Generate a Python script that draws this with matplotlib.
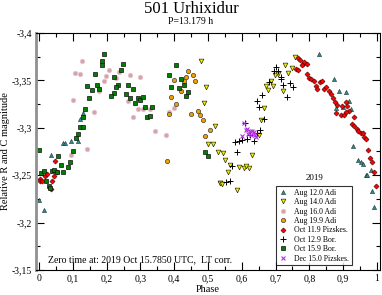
import matplotlib
matplotlib.use('Agg')
import matplotlib.pyplot as plt
from matplotlib.ticker import MultipleLocator, FuncFormatter

plt.rcParams['font.family'] = ['Liberation Serif', 'DejaVu Serif']

# Aug 12.0 Adi
aug12_ph = [0.000, 0.015, 0.036, 0.071, 0.078, 0.094, 0.115, 0.122, 0.129, 0.829, 0.873, 0.887, 0.908,
            0.916, 0.899, 0.880, 0.922, 0.929, 0.945, 0.952, 0.959, 0.981, 0.967, 0.971, 0.986, 0.991]
aug12_mag = [-3.224, -3.213, -3.271, -3.284, -3.284, -3.286, -3.286, -3.309, -3.316, -3.378, -3.351, -3.339, -3.338,
             -3.328, -3.322, -3.321, -3.320, -3.281, -3.266, -3.264, -3.262, -3.256, -3.250, -3.250, -3.233, -3.216]

# Aug 14.0 Adi
aug14_ph = [0.480, 0.493, 0.487, 0.522, 0.501, 0.516, 0.530, 0.535, 0.543, 0.550, 0.565, 0.558, 0.593, 0.607,
            0.621, 0.613, 0.629, 0.536, 0.542, 0.587, 0.656, 0.665, 0.651, 0.671, 0.678, 0.692, 0.686, 0.699,
            0.706, 0.723, 0.729, 0.736, 0.749, 0.757]
aug14_mag = [-3.370, -3.343, -3.326, -3.302, -3.283, -3.283, -3.274, -3.242, -3.273, -3.266, -3.261, -3.253, -3.259, -3.258,
             -3.258, -3.260, -3.271, -3.242, -3.241, -3.234, -3.308, -3.321, -3.292, -3.344, -3.340, -3.344, -3.349, -3.356,
             -3.357, -3.339, -3.366, -3.358, -3.363, -3.375]

# Aug 16.0 Adi
aug16_ph = [0.128, 0.107, 0.121, 0.206, 0.199, 0.193, 0.238, 0.228, 0.269, 0.299, 0.178, 0.101, 0.262, 0.164,
            0.292, 0.308, 0.328, 0.279, 0.343, 0.377, 0.386, 0.400, 0.143, 0.094]
aug16_mag = [-3.370, -3.358, -3.357, -3.361, -3.355, -3.349, -3.359, -3.353, -3.356, -3.354, -3.339, -3.329, -3.328, -3.317,
             -3.320, -3.320, -3.320, -3.311, -3.297, -3.292, -3.317, -3.321, -3.278, -3.271]

# Aug 19.9 Adi
aug19_ph = [0.441, 0.434, 0.456, 0.399, 0.428, 0.462, 0.420, 0.391, 0.405, 0.384, 0.470, 0.449, 0.476, 0.484,
            0.506, 0.491, 0.378]
aug19_mag = [-3.360, -3.354, -3.356, -3.350, -3.349, -3.349, -3.339, -3.333, -3.325, -3.315, -3.318, -3.315, -3.313, -3.308,
             -3.298, -3.291, -3.265]

# Oct 11.9 Pizskes.
oct11_ph = [0.048, 0.004, 0.002, 0.010, 0.017, 0.025, 0.043, 0.053, 0.039, 0.035,
            0.765, 0.773, 0.760, 0.767, 0.780, 0.784, 0.792, 0.777, 0.794, 0.800, 0.806, 0.813, 0.819, 0.823,
            0.830, 0.836, 0.844, 0.849, 0.857, 0.863, 0.870, 0.876, 0.882, 0.896, 0.909, 0.912, 0.917, 0.880,
            0.893, 0.902, 0.908, 0.932, 0.927, 0.932, 0.942, 0.945, 0.952, 0.959, 0.961, 0.967, 0.974, 0.979,
            0.986, 0.991, 0.997]
oct11_mag = [-3.265, -3.246, -3.244, -3.244, -3.249, -3.251, -3.249, -3.253, -3.244, -3.235,
             -3.374, -3.371, -3.362, -3.361, -3.367, -3.369, -3.367, -3.366, -3.357, -3.353, -3.351, -3.349, -3.344, -3.341,
             -3.348, -3.349, -3.341, -3.343, -3.339, -3.336, -3.331, -3.327, -3.324, -3.323, -3.327, -3.323, -3.318, -3.316,
             -3.313, -3.313, -3.317, -3.311, -3.304, -3.302, -3.299, -3.297, -3.295, -3.295, -3.290, -3.288, -3.277, -3.268,
             -3.264, -3.253, -3.239]

# Oct 12.9 Bor.
oct12_ph = [0.700, 0.696, 0.708, 0.715, 0.715, 0.681, 0.743, 0.751, 0.722, 0.735, 0.659, 0.644, 0.650, 0.666,
            0.609, 0.653, 0.646, 0.625, 0.581, 0.592, 0.600, 0.616, 0.637, 0.587, 0.570, 0.553, 0.565]
oct12_mag = [-3.364, -3.360, -3.360, -3.354, -3.351, -3.348, -3.347, -3.343, -3.345, -3.333, -3.335, -3.328, -3.322, -3.309,
             -3.305, -3.298, -3.295, -3.292, -3.285, -3.286, -3.287, -3.288, -3.286, -3.274, -3.260, -3.243, -3.244]

# Oct 15.9 Bor.
oct15_ph = [0.192, 0.186, 0.186, 0.249, 0.243, 0.165, 0.222, 0.235, 0.143, 0.157, 0.172, 0.178, 0.229, 0.221,
            0.214, 0.257, 0.149, 0.263, 0.277, 0.270, 0.293, 0.299, 0.307, 0.285, 0.313, 0.333, 0.320, 0.328,
            0.135, 0.129, 0.121, 0.129, 0.115, 0.109, 0.000, 0.101, 0.057, 0.093, 0.066, 0.085, 0.072, 0.007,
            0.014, 0.038, 0.044, 0.052, 0.022, 0.028, 0.032, 0.405, 0.384, 0.420, 0.428, 0.391, 0.413, 0.441,
            0.434, 0.491, 0.499]
oct15_mag = [-3.378, -3.370, -3.366, -3.367, -3.361, -3.357, -3.354, -3.345, -3.344, -3.340, -3.345, -3.341, -3.343, -3.337,
             -3.334, -3.336, -3.331, -3.345, -3.341, -3.331, -3.331, -3.329, -3.332, -3.326, -3.322, -3.322, -3.311, -3.312,
             -3.320, -3.311, -3.301, -3.301, -3.293, -3.289, -3.277, -3.276, -3.270, -3.264, -3.261, -3.259, -3.253, -3.252,
             -3.254, -3.254, -3.255, -3.253, -3.244, -3.239, -3.237, -3.366, -3.356, -3.351, -3.345, -3.343, -3.342, -3.338,
             -3.334, -3.275, -3.270]

# Dec 15.0 Pizskes.
dec15_ph = [0.607, 0.616, 0.612, 0.623, 0.629, 0.637, 0.619, 0.626, 0.639, 0.643, 0.601]
dec15_mag = [-3.305, -3.299, -3.298, -3.297, -3.297, -3.296, -3.293, -3.292, -3.292, -3.290, -3.291]

series = [
    (aug12_ph, aug12_mag, 'Aug 12.0 Adi', dict(marker='^', color='#2f9090', mec='#1a3030', mew=0.4, ms=3.0)),
    (aug14_ph, aug14_mag, 'Aug 14.0 Adi', dict(marker='v', color='#f0f000', mec='#303000', mew=0.5, ms=3.4)),
    (aug16_ph, aug16_mag, 'Aug 16.0 Adi', dict(marker='o', color='#d4a4ac', mec='#e8c8cc', mew=0.5, ms=3.3)),
    (aug19_ph, aug19_mag, 'Aug 19.9 Adi', dict(marker='o', color='#f0a000', mec='#404040', mew=0.5, ms=3.1)),
    (oct11_ph, oct11_mag, 'Oct 11.9 Pizskes.', dict(marker='D', color='#ff0000', mec='#400000', mew=0.4, ms=2.6)),
    (oct12_ph, oct12_mag, 'Oct 12.9 Bor.', dict(marker='+', color='black', mew=0.7, ms=3.8)),
    (oct15_ph, oct15_mag, 'Oct 15.9 Bor.', dict(marker='s', color='#008000', mec='#101010', mew=0.5, ms=2.8)),
    (dec15_ph, dec15_mag, 'Dec 15.0 Pizskes.', dict(marker='x', color='#b030e0', mew=0.8, ms=3.0)),
]

fig = plt.figure(figsize=(3.82, 2.95), dpi=100)
ax = fig.add_axes([36 / 382, 1 - 270 / 295, 344 / 382, 237 / 295])

for ph, mag, lab, st in series:
    ax.plot(ph, mag, ls='none', label=lab, **st)

ax.set_xlim(-0.009, 1.009)
ax.set_ylim(-3.15, -3.4)
ax.xaxis.set_major_locator(MultipleLocator(0.1))
ax.xaxis.set_minor_locator(MultipleLocator(0.05))
ax.yaxis.set_major_locator(MultipleLocator(0.05))
ax.yaxis.set_minor_locator(MultipleLocator(0.025))
fmt = FuncFormatter(lambda v, p: ('%g' % round(v, 3)).replace('.', ','))
ax.xaxis.set_major_formatter(fmt)
ax.yaxis.set_major_formatter(fmt)
ax.tick_params(which='both', direction='in', top=True, right=True, labelsize=7, width=0.8, pad=3)
ax.tick_params(which='major', length=6)
ax.tick_params(which='minor', length=3)
for s in ax.spines.values():
    s.set_linewidth(0.8)
ax.spines['left'].set_linewidth(2.0)
ax.spines['left'].set_color('#909090')

ax.set_xlabel('Phase', fontsize=7.5, labelpad=1)
ax.set_ylabel('Relative R and C magnitude', fontsize=7.5, labelpad=1)

fig.text(0.5, 1 - 9 / 295, '501 Urhixidur', ha='center', va='center', fontsize=12)
fig.text(0.5, 1 - 21 / 295, 'P=13.179 h', ha='center', va='center', fontsize=7)
ax.text(0.035, 0.025, 'Zero time at: 2019 Oct 15.7850 UTC,  LT corr.', transform=ax.transAxes,
        fontsize=7, ha='left', va='bottom')

fig.text(315 / 382, 1 - 178 / 295, '2019', ha='center', va='center', fontsize=6.5)
leg = ax.legend(loc='upper left', bbox_to_anchor=(276 / 382, 1 - 186 / 295),
                bbox_transform=fig.transFigure, fontsize=5.6, frameon=True, fancybox=False,
                borderaxespad=0, handlelength=1.2, handletextpad=0.8, labelspacing=0.18,
                borderpad=0.35, numpoints=1)
leg.get_frame().set_edgecolor('black')
leg.get_frame().set_linewidth(0.8)

fig.savefig('out.png', dpi=100)
